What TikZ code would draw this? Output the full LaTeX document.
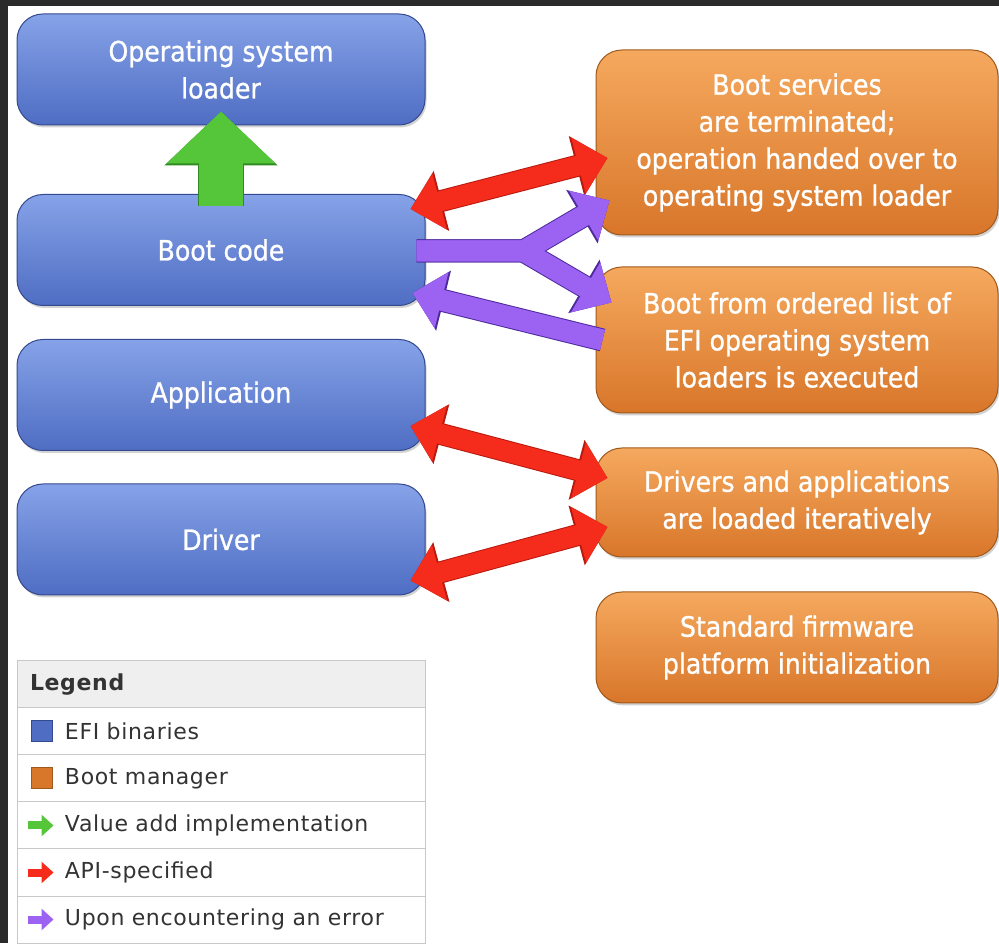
\documentclass[tikz,border=0pt]{standalone}
\usepackage{fontspec}
\setmainfont{DejaVu Sans}
\newfontfamily\boxfont[FakeBold=0.9]{DejaVu Sans Condensed}
\newfontfamily\keyfont[LetterSpace=3]{DejaVu Sans}
\usetikzlibrary{positioning,arrows.meta,shadows}

\definecolor{frame}{HTML}{2A2A2A}
\definecolor{binTop}{HTML}{86A2E8}
\definecolor{binBot}{HTML}{4F6DC3}
\definecolor{binEdge}{HTML}{34498E}
\definecolor{mgrTop}{HTML}{F5A95E}
\definecolor{mgrBot}{HTML}{D8762A}
\definecolor{mgrEdge}{HTML}{A0591C}
\definecolor{addGreen}{HTML}{55C63A}
\definecolor{addEdge}{HTML}{2E8C20}
\definecolor{apiRed}{HTML}{F52C1C}
\definecolor{apiEdge}{HTML}{B81A10}
\definecolor{errPurple}{HTML}{9C62F2}
\definecolor{errEdge}{HTML}{4E2A9E}
\definecolor{keyLine}{HTML}{C8C8C8}
\definecolor{keyHead}{HTML}{EFEFEF}
\definecolor{keyText}{HTML}{333333}

\tikzset{
  box/.style={rounded corners=26pt, line width=1pt, inner sep=0pt, align=center,
    text=white, font=\boxfont\fontsize{28}{37}\selectfont,
    drop shadow={shadow xshift=1.5pt, shadow yshift=-2.5pt, opacity=.35}},
  efi/.style={box, draw=binEdge, top color=binTop, bottom color=binBot,
    minimum width=408pt, minimum height=111pt},
  mgr/.style={box, draw=mgrEdge, top color=mgrTop, bottom color=mgrBot,
    minimum width=402pt},
  % fat arrows
  value/.style={draw=addGreen, line width=44pt, -{Triangle[length=52pt,width=106pt]},
    preaction={draw=addEdge, line width=46pt, -{Triangle[length=54pt,width=110pt]}}},
  api/.style={draw=apiRed, line width=20pt,
    {Triangle[length=30pt,width=56pt]}-{Triangle[length=30pt,width=56pt]},
    preaction={draw=apiEdge, line width=22pt,
      {Triangle[length=32pt,width=60pt]}-{Triangle[length=32pt,width=60pt]}}},
  errBody/.style={draw=errPurple, line width=21pt, line join=round,
    -{Triangle[length=30pt,width=56pt]}},
  errRim/.style={draw=errEdge, line width=23pt, line join=round,
    -{Triangle[length=32pt,width=60pt]}},
  err/.style={errBody, preaction={errRim}},
  % legend
  keycell/.style={draw=keyLine, line width=1pt, fill=white, minimum width=408pt,
    minimum height=47pt, text width=382pt, inner xsep=13pt, inner ysep=0pt,
    align=left, text=keyText, font=\keyfont\fontsize{22}{26}\selectfont},
  keysq/.style={minimum size=21pt, inner sep=0pt, line width=1pt},
  keyarrow/.style={line width=8pt, -{Triangle[length=12pt,width=21pt]}}
}

\begin{document}
\begin{tikzpicture}[x=1pt,y=1pt,on grid,node distance=145pt]
  \useasboundingbox (0,0) rectangle (999,943);
  \fill[frame] (0,0) rectangle (999,943);
  \fill[white] (8,0) rectangle (999,937);

  % EFI binaries
  \node[efi] (osl)                         at (221,873.5) {Operating system\\loader};
  \node[efi] (boot) [below=180.5pt of osl] {Boot code};
  \node[efi] (app)  [below=of boot]        {Application};
  \node[efi] (drv)  [below=144.5pt of app] {Driver};

  % boot manager
  \node[mgr,minimum height=185pt] (svc)  at (797,800.5)
    {Boot services\\are terminated;\\operation handed over to\\operating system loader};
  \node[mgr,minimum height=146pt] (list) [below=197.5pt of svc]
    {Boot from ordered list of\\EFI operating system\\loaders is executed};
  \node[mgr,minimum height=109pt] (load) [below=162.5pt of list]
    {Drivers and applications\\are loaded iteratively};
  \node[mgr,minimum height=111pt] (init) [below=of load]
    {Standard firmware\\platform initialization};

  % value add
  \draw[value] ([yshift=-12pt]boot.north) -- ([yshift=14pt]osl.south);

  % API-specified
  \draw[api] ([shift={(-15,-15)}]boot.north east) -- ([shift={(12,-15.5)}]svc.west);
  \draw[api] ([shift={(-15,25)}]app.south east)   -- ([shift={(12,24.5)}]load.west);
  \draw[api] ([shift={(12,-24.5)}]load.west)      -- ([shift={(-15,15)}]drv.south east);

  % upon an error: fork to both, then back
  \coordinate (fork) at ([shift={(98,-1)}]boot.east);
  \draw[errRim]  ([shift={(-9,-1)}]boot.east) -- (fork) -- ([shift={(14,35)}]svc.south west);
  \draw[errRim]  ([shift={(-9,-1)}]boot.east) -- (fork) -- ([shift={(16,-36)}]list.north west);
  \draw[errBody] ([shift={(-9,-1)}]boot.east) -- (fork) -- ([shift={(14,35)}]svc.south west);
  \draw[errBody] ([shift={(-9,-1)}]boot.east) -- (fork) -- ([shift={(16,-36)}]list.north west);
  \draw[err] ([xshift=7pt]list.west) -- ([shift={(-13,13)}]boot.south east);

  % legend
  \node[keycell,fill=keyHead,font=\keyfont\bfseries\fontsize{22}{26}\selectfont]
    (legend) at (221,258.5) {Legend};
  \node[keycell] (kBin) [below=47pt of legend] {\hspace*{35pt}EFI binaries};
  \node[keycell] (kMgr) [below=47pt of kBin]   {\hspace*{35pt}Boot manager};
  \node[keycell] (kAdd) [below=47pt of kMgr]   {\hspace*{35pt}Value add implementation};
  \node[keycell] (kApi) [below=47pt of kAdd]   {\hspace*{35pt}API-specified};
  \node[keycell] (kErr) [below=47pt of kApi]   {\hspace*{35pt}Upon encountering an error};

  \node[keysq,draw=binEdge,fill=binBot] (sqBin) at ([xshift=25pt]kBin.west) {};
  \node[keysq,draw=mgrEdge,fill=mgrBot] (sqMgr) at ([xshift=25pt]kMgr.west) {};
  \draw[keyarrow,draw=addGreen]  ([xshift=11pt]kAdd.west) -- ([xshift=37pt]kAdd.west);
  \draw[keyarrow,draw=apiRed]    ([xshift=11pt]kApi.west) -- ([xshift=37pt]kApi.west);
  \draw[keyarrow,draw=errPurple] ([xshift=11pt]kErr.west) -- ([xshift=37pt]kErr.west);
\end{tikzpicture}
\end{document}
